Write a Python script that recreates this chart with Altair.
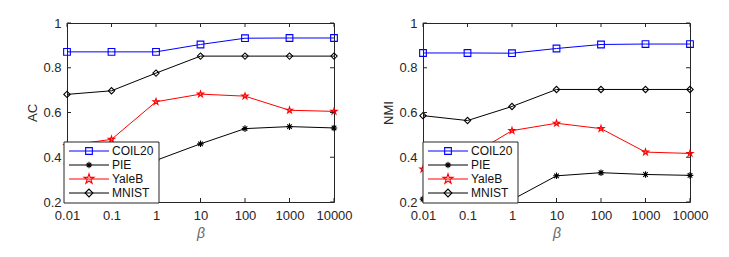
import altair as alt
import pandas as pd

betas = ["0.01", "0.1", "1", "10", "100", "1000", "10000"]
series = ["COIL20", "PIE", "YaleB", "MNIST"]
colors = ["#0000ff", "#000000", "#ff0000", "#000000"]

ac_coil20 = [0.871, 0.871, 0.871, 0.904, 0.932, 0.933, 0.933]
ac_pie = [0.37, 0.37, 0.386, 0.460, 0.528, 0.537, 0.531]
ac_yaleb = [0.452, 0.480, 0.648, 0.682, 0.673, 0.610, 0.605]
ac_mnist = [0.681, 0.697, 0.776, 0.852, 0.852, 0.852, 0.852]

nmi_coil20 = [0.866, 0.866, 0.865, 0.886, 0.904, 0.906, 0.906]
nmi_pie = [0.213, 0.21, 0.21, 0.317, 0.331, 0.323, 0.319]
nmi_yaleb = [0.347, 0.40, 0.519, 0.552, 0.528, 0.423, 0.417]
nmi_mnist = [0.586, 0.564, 0.627, 0.703, 0.703, 0.703, 0.703]

y_ticks = [0.2, 0.4, 0.6, 0.8, 1.0]

STAR = ("M0,-1L0.2245,-0.309L0.951,-0.309L0.363,0.118L0.588,0.809L0,0.382"
        "L-0.588,0.809L-0.363,0.118L-0.951,-0.309L-0.2245,-0.309Z")
AST = "M-1,0L1,0M0,-1L0,1M-0.7,-0.7L0.7,0.7M-0.7,0.7L0.7,-0.7"
shapes = ["square", AST, STAR, "diamond"]
sizes = [45, 40, 110, 60]

W, H = 267, 179
FONT = "Liberation Sans"
TXT = "#262626"


def long_df(vals):
    rows = []
    for s, v in zip(series, vals):
        for b, y in zip(betas, v):
            rows.append({"beta": b, "series": s, "val": y})
    return pd.DataFrame(rows)


def panel(vals, ytitle, lx):
    df = long_df(vals)
    xscale = alt.Scale(type="point", domain=betas, padding=0)
    xenc = alt.X("beta:N", sort=betas, scale=xscale,
                 axis=alt.Axis(title="β", labelAngle=0, ticks=False, domain=False,
                               labelPadding=7, titlePadding=4, titleFontStyle="italic",
                               titleColor="#666666", titleFontSize=14))
    yscale = alt.Scale(domain=[0.2, 1.0], nice=False, zero=False)
    yenc = alt.Y("val:Q", scale=yscale,
                 axis=alt.Axis(title=ytitle, values=y_ticks, ticks=False, domain=False,
                               grid=False, labelExpr="format(datum.value, '~g')",
                               labelPadding=6, titlePadding=3))
    cenc = alt.Color("series:N", scale=alt.Scale(domain=series, range=colors), legend=None)
    senc = alt.Shape("series:N", scale=alt.Scale(domain=series, range=shapes), legend=None)
    zenc = alt.Size("series:N", scale=alt.Scale(domain=series, range=sizes), legend=None)

    xs = alt.X("beta:N", sort=betas, scale=xscale)
    ys = alt.Y("val:Q", scale=yscale)

    base = alt.Chart(df)
    lines = base.mark_line(strokeWidth=1).encode(x=xenc, y=yenc, color=cenc, detail="series:N")
    pts = base.mark_point(filled=False, strokeWidth=1.1, opacity=1).encode(
        x=xs, y=ys, color=cenc, shape=senc, size=zenc)

    xt = pd.DataFrame({"beta": betas})
    yt = pd.DataFrame({"val": y_ticks})
    tick_style = dict(color=TXT, strokeWidth=1)
    xb = alt.Chart(xt).mark_rule(**tick_style).encode(
        x=xs, y=alt.value(H), y2=alt.value(H - 4))
    xtop = alt.Chart(xt).mark_rule(**tick_style).encode(
        x=xs, y=alt.value(0), y2=alt.value(4))
    yl = alt.Chart(yt).mark_rule(**tick_style).encode(
        y=ys, x=alt.value(0), x2=alt.value(4))
    yr = alt.Chart(yt).mark_rule(**tick_style).encode(
        y=ys, x=alt.value(W), x2=alt.value(W - 4))

    one = pd.DataFrame({"k": [0]})
    leg = [alt.Chart(one).mark_rect(fill="white", stroke=TXT, strokeWidth=1).encode(
        x=alt.value(lx), x2=alt.value(lx + 95), y=alt.value(119), y2=alt.value(180))]
    rows_y = [128, 142, 156, 170]
    for s, c, sh, sz, yy in zip(series, colors, shapes, sizes, rows_y):
        leg.append(alt.Chart(one).mark_rule(color=c, strokeWidth=1).encode(
            x=alt.value(lx + 5), x2=alt.value(lx + 45), y=alt.value(yy)))
        leg.append(alt.Chart(one).mark_point(filled=False, color=c, strokeWidth=1.1,
                                             shape=sh, size=sz, opacity=1).encode(
            x=alt.value(lx + 25), y=alt.value(yy)))
        leg.append(alt.Chart(one).mark_text(align="left", baseline="middle", font=FONT,
                                            fontSize=12, color="#111111").encode(
            x=alt.value(lx + 48), y=alt.value(yy), text=alt.value(s)))

    return alt.layer(lines, pts, xb, xtop, yl, yr, *leg).properties(width=W, height=H)


left = panel([ac_coil20, ac_pie, ac_yaleb, ac_mnist], "AC", -3)
right = panel([nmi_coil20, nmi_pie, nmi_yaleb, nmi_mnist], "NMI", 0)

chart = alt.hconcat(left, right, spacing=29).properties(
    padding={"left": 18, "top": 8, "right": 5, "bottom": 5},
    background="white"
).configure_view(stroke=TXT, strokeWidth=1).configure_axis(
    labelFont=FONT, labelFontSize=13, labelColor=TXT,
    titleFont=FONT, titleFontSize=13, titleFontWeight="normal", titleColor=TXT
)

chart.save("out.html", embed_options={"renderer": "svg", "actions": False})
